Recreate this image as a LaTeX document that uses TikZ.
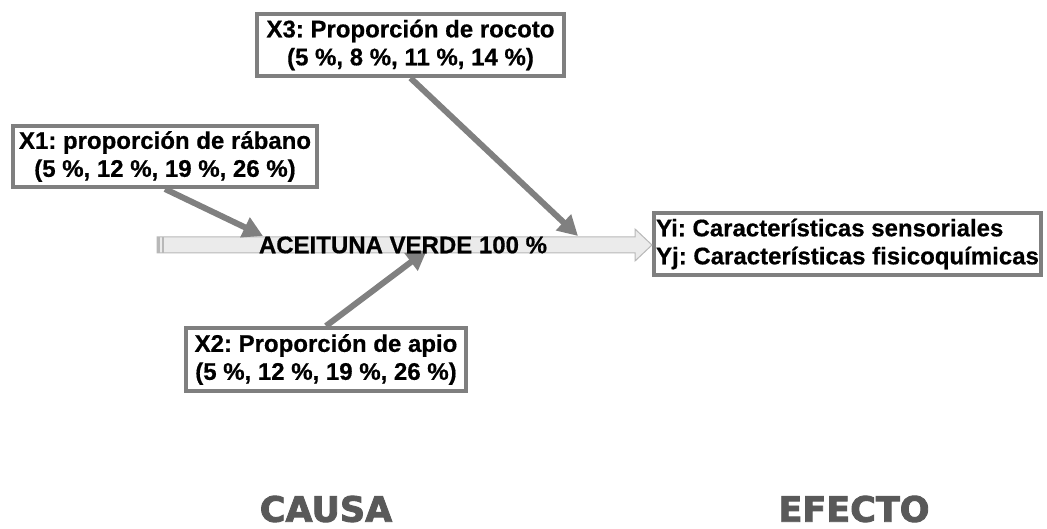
\documentclass[tikz,border=0pt]{standalone}
\usepackage{fontspec}
\setmainfont{Liberation Sans}[BoldFeatures={FakeBold=0.6}]
\newfontfamily\heavyfont{DejaVu Sans Bold}[FakeBold=2.5]
\usetikzlibrary{arrows.meta,calc}
\frenchspacing
\definecolor{boxgray}{HTML}{7F7F7F}
\definecolor{arrgray}{HTML}{808080}
\definecolor{shaftfill}{HTML}{EBEBEB}
\definecolor{shaftline}{HTML}{B8B8B8}
\definecolor{bigtext}{HTML}{595959}
\tikzset{
  factorbox/.style={draw=boxgray, line width=4pt, fill=white, inner sep=0pt,
    align=center, font=\bfseries\fontsize{24}{28}\selectfont},
  conn/.style={draw=arrgray, line width=6pt, -{Triangle[length=20pt,width=21pt]}},
  bigword/.style={text=bigtext, inner sep=0pt, font=\heavyfont\fontsize{35}{40}\selectfont}
}
\begin{document}
\begin{tikzpicture}[x=1pt,y=-1pt]
\useasboundingbox (0,0) rectangle (1047,529);
% boxes
\node[factorbox, minimum width=307pt, minimum height=62pt] (x3) at (410.5,45)
  {X3: Proporción de rocoto\\(5 \%, 8 \%, 11 \%, 14 \%)};
\node[factorbox, minimum width=304pt, minimum height=61pt] (x1) at (165,156.5)
  {X1: proporción de rábano\\(5 \%, 12 \%, 19 \%, 26 \%)};
\node[factorbox, minimum width=280pt, minimum height=63pt] (x2) at (326,359.5)
  {X2: Proporción de apio\\(5 \%, 12 \%, 19 \%, 26 \%)};
\node[factorbox, align=left, minimum width=387pt, minimum height=62pt] (y) at (847.5,244)
  {Yi: Características sensoriales\\Yj: Características fisicoquímicas};
% main arrow
\fill[shaftfill] (157,237) -- (635,237) -- (635,229) -- (652,245) -- (635,261) -- (635,253) -- (157,253) -- cycle;
\draw[shaftline, line width=1pt] (157,237) -- (635,237) -- (635,229) -- (652,245) -- (635,261) -- (635,253) -- (157,253) -- cycle;
\fill[shaftline] (157,237) rectangle (159.5,253);
\fill[shaftline] (161.5,237) rectangle (164,253);
% tips
\coordinate (t1) at (263,236);
\coordinate (t3) at (578,236);
\coordinate (t2) at (427,250);
\draw[conn] (x1.south) -- (t1);
\draw[conn] (x3.south) -- (t3);
\draw[conn] (x2.north) -- (t2);
\node[font=\bfseries\fontsize{24}{28}\selectfont, inner sep=0pt] (main) at (403,245) {ACEITUNA VERDE 100 \%};
% labels
\node[bigword] (causa) at (326,509) {CAUSA};
\node[bigword] (efecto) at (854,509) {EFECTO};
\end{tikzpicture}
\end{document}
